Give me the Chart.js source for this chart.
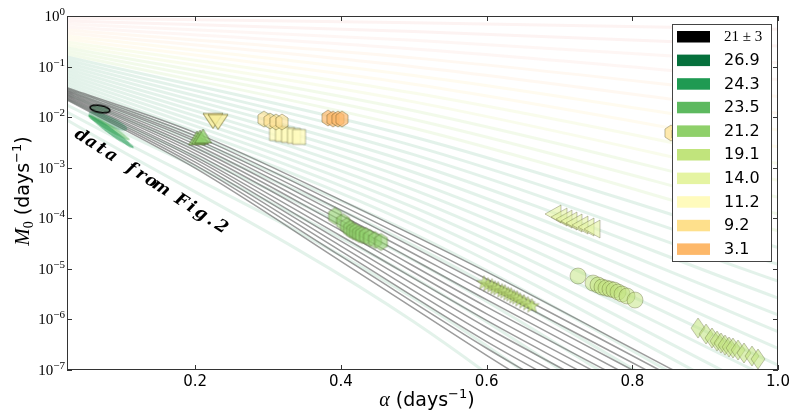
<!DOCTYPE html>
<html><head><meta charset="utf-8">
<script src="https://cdn.jsdelivr.net/npm/chart.js@4.4.1/dist/chart.umd.min.js"></script>
<style>html,body{margin:0;padding:0;background:#fff;overflow:hidden}</style>
</head><body>
<canvas id="c" width="790" height="417"></canvas>
<script>
// ---------------- DATA ----------------
const legendLabels = ['21 ± 3','26.9','24.3','23.5','21.2','19.1','14.0','11.2','9.2','3.1'];
const xTicks = [0.2,0.4,0.6,0.8,1.0];
const xTickLabels = ['0.2','0.4','0.6','0.8','1.0'];
const yTicks = [1,1e-1,1e-2,1e-3,1e-4,1e-5,1e-6,1e-7];
const yTickExponents = ['0','−1','−2','−3','−4','−5','−6','−7'];

// gray model lines: log10(M0) at alpha = 0.024, 0.2, 0.4, 0.6 and alpha where M0 reaches 1e-7
const grayNodeAlpha = [0.024, 0.2, 0.4, 0.6];
const grayLogM_a0  = [-1.42,-1.44,-1.46,-1.48,-1.50,-1.52,-1.54,-1.56,-1.58,-1.60,-1.62,-1.64,-1.66];
const grayLogM_a02 = [-2.31,-2.37,-2.43,-2.48,-2.54,-2.60,-2.66,-2.72,-2.78,-2.83,-2.89,-2.95,-3.01];
const grayLogM_a04 = [-3.64,-3.74,-3.84,-3.94,-4.04,-4.14,-4.24,-4.35,-4.45,-4.55,-4.65,-4.75,-4.85];
const grayLogM_a06 = [-5.06,-5.20,-5.34,-5.47,-5.61,-5.75,-5.89,-6.02,-6.16,-6.30,-6.44,-6.57,-6.71];
const grayEndAlpha = [0.856,0.837,0.819,0.800,0.781,0.763,0.744,0.725,0.707,0.688,0.669,0.651,0.632];
const grayEndM0 = 1e-7;

// faint background lines: log10(M0) at alpha = 0.024, 0.5, 1.0
const bgNodeAlpha = [0.024, 0.5, 1.0];
const bgLogM_left  = [-0.040,-0.099,-0.158,-0.218,-0.277,-0.336,-0.396,-0.455,-0.514,-0.573,-0.633,-0.692,-0.751,-0.811,-0.870,-0.929,-0.989,-1.048,-1.107,-1.167,-1.226,-1.285,-1.345,-1.404,-1.463,-1.542,-1.641,-1.760,-1.898,-2.057];
const bgLogM_mid   = [-0.133,-0.306,-0.480,-0.654,-0.828,-1.002,-1.176,-1.350,-1.524,-1.698,-1.872,-2.046,-2.220,-2.394,-2.568,-2.742,-2.916,-3.090,-3.264,-3.437,-3.611,-3.785,-3.959,-4.133,-4.307,-4.539,-4.829,-5.177,-5.583,-6.047];
const bgLogM_right = [-0.261,-0.593,-0.925,-1.258,-1.590,-1.922,-2.254,-2.587,-2.919,-3.251,-3.583,-3.915,-4.248,-4.580,-4.912,-5.244,-5.577,-5.909,-6.241,-6.573,-6.906,-7.238,-7.570,-7.902,-8.234,-8.677,-9.231,-9.895,-10.671,-11.557];

// measured points
const ellipseAlpha = [0.0693], ellipseM0 = [1.45e-2];
const streakAlpha = [0.0803,0.0817,0.0844], streakM0 = [8.39e-3,6.20e-3,5.20e-3];
const triUpAlpha = [0.2025,0.2066,0.2107], triUpM0 = [3.87e-3,4.05e-3,4.24e-3];
const triDownAlpha = [0.2244,0.2313], triDownM0 = [8.39e-3,8.02e-3];
const hexLightAlpha = [0.2944,0.3027,0.3109,0.3191], hexLightM0 = [9.18e-3,8.39e-3,8.02e-3,8.02e-3];
const squareAlpha = [0.3109,0.3191,0.3274,0.3356,0.3425], squareM0 = [4.85e-3,4.64e-3,4.44e-3,4.24e-3,4.05e-3];
const hexOrangeAlpha = [0.3823,0.3892,0.3960,0.4015], hexOrangeM0 = [9.62e-3,9.18e-3,9.18e-3,9.18e-3];
const hexGreenAlpha = [0.3919,0.4029,0.4084,0.4125,0.4166,0.4207,0.4248,0.4289,0.4344,0.4399,0.4468,0.4550];
const hexGreenM0 = [1.109e-4,8.43e-5,7.03e-5,6.14e-5,5.60e-5,5.36e-5,4.89e-5,4.67e-5,4.47e-5,4.07e-5,3.72e-5,3.40e-5];
const starAlpha = [0.5964,0.6019,0.6074,0.6115,0.6157,0.6211,0.6252,0.6294,0.6335,0.6376,0.6417,0.6458,0.6513,0.6568,0.6623];
const starM0 = [5.25e-6,4.80e-6,4.58e-6,4.18e-6,4.00e-6,3.65e-6,3.48e-6,3.18e-6,3.04e-6,2.77e-6,2.65e-6,2.42e-6,2.21e-6,2.02e-6,1.84e-6];
const triLeftAlpha = [0.6911,0.6994,0.7063,0.7131,0.7200,0.7282,0.7364,0.7447];
const triLeftM0 = [1.216e-4,1.06e-4,9.68e-5,8.83e-5,8.07e-5,7.36e-5,6.73e-5,6.14e-5];
const circleAlpha = [0.7255,0.7461,0.7529,0.7584,0.7639,0.7694,0.7749,0.7804,0.7859,0.7927,0.8037];
const circleM0 = [7.23e-6,5.25e-6,4.80e-6,4.38e-6,4.18e-6,4.00e-6,3.82e-6,3.48e-6,3.18e-6,2.90e-6,2.42e-6];
const diamondAlpha = [0.8902,0.9012,0.9094,0.9163,0.9218,0.9273,0.9328,0.9382,0.9451,0.9533,0.9643,0.9725];
const diamondM0 = [6.76e-7,5.15e-7,4.30e-7,3.74e-7,3.42e-7,3.12e-7,2.85e-7,2.72e-7,2.48e-7,2.17e-7,1.89e-7,1.65e-7];
const hiddenAlpha = [0.8531,0.8627,0.8723], hiddenM0 = [4.85e-3,4.64e-3,4.64e-3];

// ---------------- STYLE ----------------
const legendColors = ['#000000','#05703c','#1f9a52','#5db95f','#8fd06a','#c1e47c','#e5f4a2','#fffbbd','#fee08c','#fdb86a'];
function rgba(hex, a){const n=parseInt(hex.slice(1),16);return `rgba(${n>>16},${(n>>8)&255},${n&255},${a})`;}
function bgColor(i){
  if(i<2) return 'rgba(215,48,39,0.06)';
  if(i<4) return 'rgba(244,109,67,0.06)';
  if(i<6) return 'rgba(253,174,97,0.09)';
  if(i<8) return 'rgba(254,224,139,0.14)';
  if(i<10) return 'rgba(217,239,139,0.16)';
  if(i<13) return 'rgba(166,217,106,0.14)';
  return 'rgba(26,152,80,0.12)';
}
function mk(shape,w,h,fill,stroke,lw){
  const pad=3,c=document.createElement('canvas');
  c.width=Math.ceil(w+2*pad);c.height=Math.ceil(h+2*pad);
  const g=c.getContext('2d');g.translate(c.width/2,c.height/2);
  const rx=w/2,ry=h/2;g.beginPath();
  if(shape==='ellipse')g.ellipse(0,0,rx,ry,0,0,Math.PI*2);
  else if(shape==='circle')g.arc(0,0,rx,0,Math.PI*2);
  else if(shape==='square')g.rect(-rx,-ry,w,h);
  else if(shape==='triUp'){g.moveTo(0,-ry);g.lineTo(rx,ry);g.lineTo(-rx,ry);g.closePath();}
  else if(shape==='triDown'){g.moveTo(0,ry);g.lineTo(rx,-ry);g.lineTo(-rx,-ry);g.closePath();}
  else if(shape==='triLeft'){g.moveTo(-rx,0);g.lineTo(rx,-ry);g.lineTo(rx,ry);g.closePath();}
  else if(shape==='hex'){for(let k=0;k<6;k++){const a=-Math.PI/2+k*Math.PI/3;const px=rx*Math.cos(a),py=ry*Math.sin(a);if(k)g.lineTo(px,py);else g.moveTo(px,py);}g.closePath();}
  else if(shape==='star'){for(let k=0;k<10;k++){const a=-Math.PI/2+k*Math.PI/5;const r=(k%2)?0.42:1;const px=rx*r*Math.cos(a),py=ry*r*Math.sin(a);if(k)g.lineTo(px,py);else g.moveTo(px,py);}g.closePath();}
  else if(shape==='diamond'){g.moveTo(0,-ry);g.lineTo(rx,0);g.lineTo(0,ry);g.lineTo(-rx,0);g.closePath();}
  g.fillStyle=fill;g.fill();
  if(lw){g.strokeStyle=stroke;g.lineWidth=lw;g.stroke();}
  return c;
}
const EDGE='rgba(40,40,0,0.45)';
function pts(xs,ys){return xs.map((x,i)=>({x:x,y:ys[i]}));}
function markerDS(label,xs,ys,style,rot){
  return {type:'scatter',label,data:pts(xs,ys),pointStyle:style,rotation:rot||0,pointRadius:8,pointHoverRadius:8,order:0};
}

const datasets=[];
datasets.push(markerDS('21 ± 3',ellipseAlpha,ellipseM0,mk('ellipse',20,7,'rgba(30,95,55,0.45)','#000',1.5),10));
datasets.push(markerDS('streaks',streakAlpha,streakM0,[
  mk('ellipse',42,10,rgba(legendColors[1],0.35),null,0),
  mk('ellipse',48,6,rgba(legendColors[3],0.55),null,0),
  mk('ellipse',56,6,rgba(legendColors[2],0.6),null,0)],[24,31,36]));
datasets.push(markerDS('tu',triUpAlpha,triUpM0,mk('triUp',17,14,rgba(legendColors[4],0.75),EDGE,0.9)));
datasets.push(markerDS('td',triDownAlpha,triDownM0,mk('triDown',20,15,rgba('#f8ee98',0.8),'rgba(90,80,20,0.6)',1)));
datasets.push(markerDS('hl',hexLightAlpha,hexLightM0,mk('hex',14,16,rgba(legendColors[8],0.6),EDGE,0.7)));
datasets.push(markerDS('sq',squareAlpha,squareM0,mk('square',13,15,rgba(legendColors[7],0.8),EDGE,0.7)));
datasets.push(markerDS('ho',hexOrangeAlpha,hexOrangeM0,mk('hex',14,16,rgba(legendColors[9],0.7),EDGE,0.7)));
datasets.push(markerDS('hg',hexGreenAlpha,hexGreenM0,mk('hex',15,17,rgba(legendColors[4],0.6),EDGE,0.7)));
datasets.push(markerDS('st',starAlpha,starM0,mk('star',15,15,rgba(legendColors[5],0.75),EDGE,0.6)));
datasets.push(markerDS('tl',triLeftAlpha,triLeftM0,mk('triLeft',16,18,rgba(legendColors[6],0.6),EDGE,0.6)));
datasets.push(markerDS('ci',circleAlpha,circleM0,mk('circle',16,16,rgba(legendColors[5],0.5),EDGE,0.6)));
datasets.push(markerDS('di',diamondAlpha,diamondM0,mk('diamond',14,20,rgba(legendColors[5],0.55),EDGE,0.6)));
datasets.push(markerDS('hid',hiddenAlpha,hiddenM0,mk('hex',14,16,rgba(legendColors[8],0.7),EDGE,0.7)));

for(let i=0;i<grayLogM_a0.length;i++){
  const logs=[grayLogM_a0[i],grayLogM_a02[i],grayLogM_a04[i],grayLogM_a06[i]];
  const d=grayNodeAlpha.map((a,k)=>({x:a,y:Math.pow(10,logs[k])}));
  d.push({x:grayEndAlpha[i],y:grayEndM0});
  datasets.push({type:'line',data:d,borderColor:'rgba(95,95,95,0.62)',borderWidth:1.5,pointRadius:0,cubicInterpolationMode:'monotone',fill:false,clip:0,order:1});
}
for(let i=0;i<bgLogM_left.length;i++){
  const logs=[bgLogM_left[i],bgLogM_mid[i],bgLogM_right[i]];
  const d=bgNodeAlpha.map((a,k)=>({x:a,y:Math.pow(10,logs[k])}));
  datasets.push({type:'line',data:d,borderColor:bgColor(i),borderWidth:3,pointRadius:0,cubicInterpolationMode:'monotone',fill:false,clip:0,order:2});
}

function drawRich(ctx,parts,x,y,align){
  let w=0;parts.forEach(p=>{ctx.font=p.font;p.w=ctx.measureText(p.t).width;w+=p.w;});
  let cx=align==='center'?x-w/2:(align==='right'?x-w:x);
  ctx.textAlign='left';
  parts.forEach(p=>{ctx.font=p.font;ctx.fillText(p.t,cx,y+(p.dy||0));cx+=p.w;});
}

const decor={
  id:'decor',
  afterDatasetsDraw(chart){
    const ctx=chart.ctx;
    const text='data from Fig.2';
    const sx=81,sy=136,ex=221,ey=227;
    const ang=Math.atan2(ey-sy,ex-sx),step=Math.hypot(ex-sx,ey-sy)/(text.length-1);
    ctx.save();ctx.fillStyle='#000';ctx.font='italic bold 17px "DejaVu Serif"';ctx.textAlign='center';ctx.textBaseline='middle';
    for(let i=0;i<text.length;i++){
      ctx.save();ctx.translate(sx+Math.cos(ang)*step*i,sy+Math.sin(ang)*step*i);ctx.rotate(ang);ctx.fillText(text[i],0,0);ctx.restore();
    }
    ctx.restore();
  },
  afterDraw(chart){
    const {ctx,chartArea:a,scales}=chart;const xs=scales.x,ys=scales.y;
    ctx.save();
    const lx=672.5,ly=24.5,lw=99,lh=237;
    ctx.fillStyle='#fff';ctx.fillRect(lx,ly,lw,lh);
    ctx.strokeStyle='#444';ctx.lineWidth=1;ctx.strokeRect(lx,ly,lw,lh);
    for(let i=0;i<legendLabels.length;i++){
      const cy=36.7+i*23.6;
      ctx.fillStyle=legendColors[i];ctx.fillRect(677,cy-5.7,33,11.5);
      ctx.fillStyle='#000';ctx.textBaseline='middle';ctx.textAlign='left';
      ctx.font=i===0?'15px "Liberation Serif"':'16px "DejaVu Sans"';
      ctx.fillText(legendLabels[i],724,cy+0.5);
    }
    ctx.strokeStyle='#333';ctx.lineWidth=1;
    ctx.strokeRect(a.left+0.5,a.top+0.5,a.right-a.left-1,a.bottom-a.top-1);
    ctx.beginPath();
    xTicks.forEach(v=>{const px=Math.round(xs.getPixelForValue(v))+0.5;ctx.moveTo(px,a.bottom);ctx.lineTo(px,a.bottom-5);ctx.moveTo(px,a.top);ctx.lineTo(px,a.top+5);});
    yTicks.forEach(v=>{const py=Math.round(ys.getPixelForValue(v))+0.5;ctx.moveTo(a.left,py);ctx.lineTo(a.left+5,py);ctx.moveTo(a.right,py);ctx.lineTo(a.right-5,py);});
    ctx.stroke();
    ctx.fillStyle='#000';ctx.textBaseline='middle';ctx.textAlign='center';ctx.font='15px "DejaVu Sans"';
    xTicks.forEach((v,i)=>ctx.fillText(xTickLabels[i],xs.getPixelForValue(v),382));
    ctx.textBaseline='alphabetic';
    yTicks.forEach((v,i)=>{
      const py=ys.getPixelForValue(v);
      drawRich(ctx,[{t:'10',font:'15px "Liberation Serif"'},{t:yTickExponents[i],font:'11px "Liberation Serif"',dy:-6}],65,py+5,'right');
    });
    drawRich(ctx,[{t:'α',font:'italic 20px "Liberation Serif"'},{t:' (days',font:'19px "DejaVu Sans"'},{t:'−1',font:'13px "DejaVu Sans"',dy:-8},{t:')',font:'19px "DejaVu Sans"'}],427,406,'center');
    ctx.save();ctx.translate(29,191);ctx.rotate(-Math.PI/2);
    drawRich(ctx,[{t:'M',font:'italic 21px "Liberation Serif"'},{t:'0',font:'14px "Liberation Serif"',dy:4},{t:' (days',font:'19px "DejaVu Sans"'},{t:'−1',font:'13px "DejaVu Sans"',dy:-8},{t:')',font:'19px "DejaVu Sans"'}],0,0,'center');
    ctx.restore();
    ctx.restore();
  }
};

new Chart(document.getElementById('c'),{
  type:'scatter',
  data:{datasets},
  options:{
    responsive:false,devicePixelRatio:1,animation:false,
    layout:{padding:{left:67,top:16,right:12,bottom:47}},
    events:[],
    plugins:{legend:{display:false},tooltip:{enabled:false}},
    scales:{
      x:{type:'linear',min:0.024,max:1.0,display:false},
      y:{type:'logarithmic',min:1e-7,max:1,display:false}
    }
  },
  plugins:[decor]
});
</script>
</body></html>
